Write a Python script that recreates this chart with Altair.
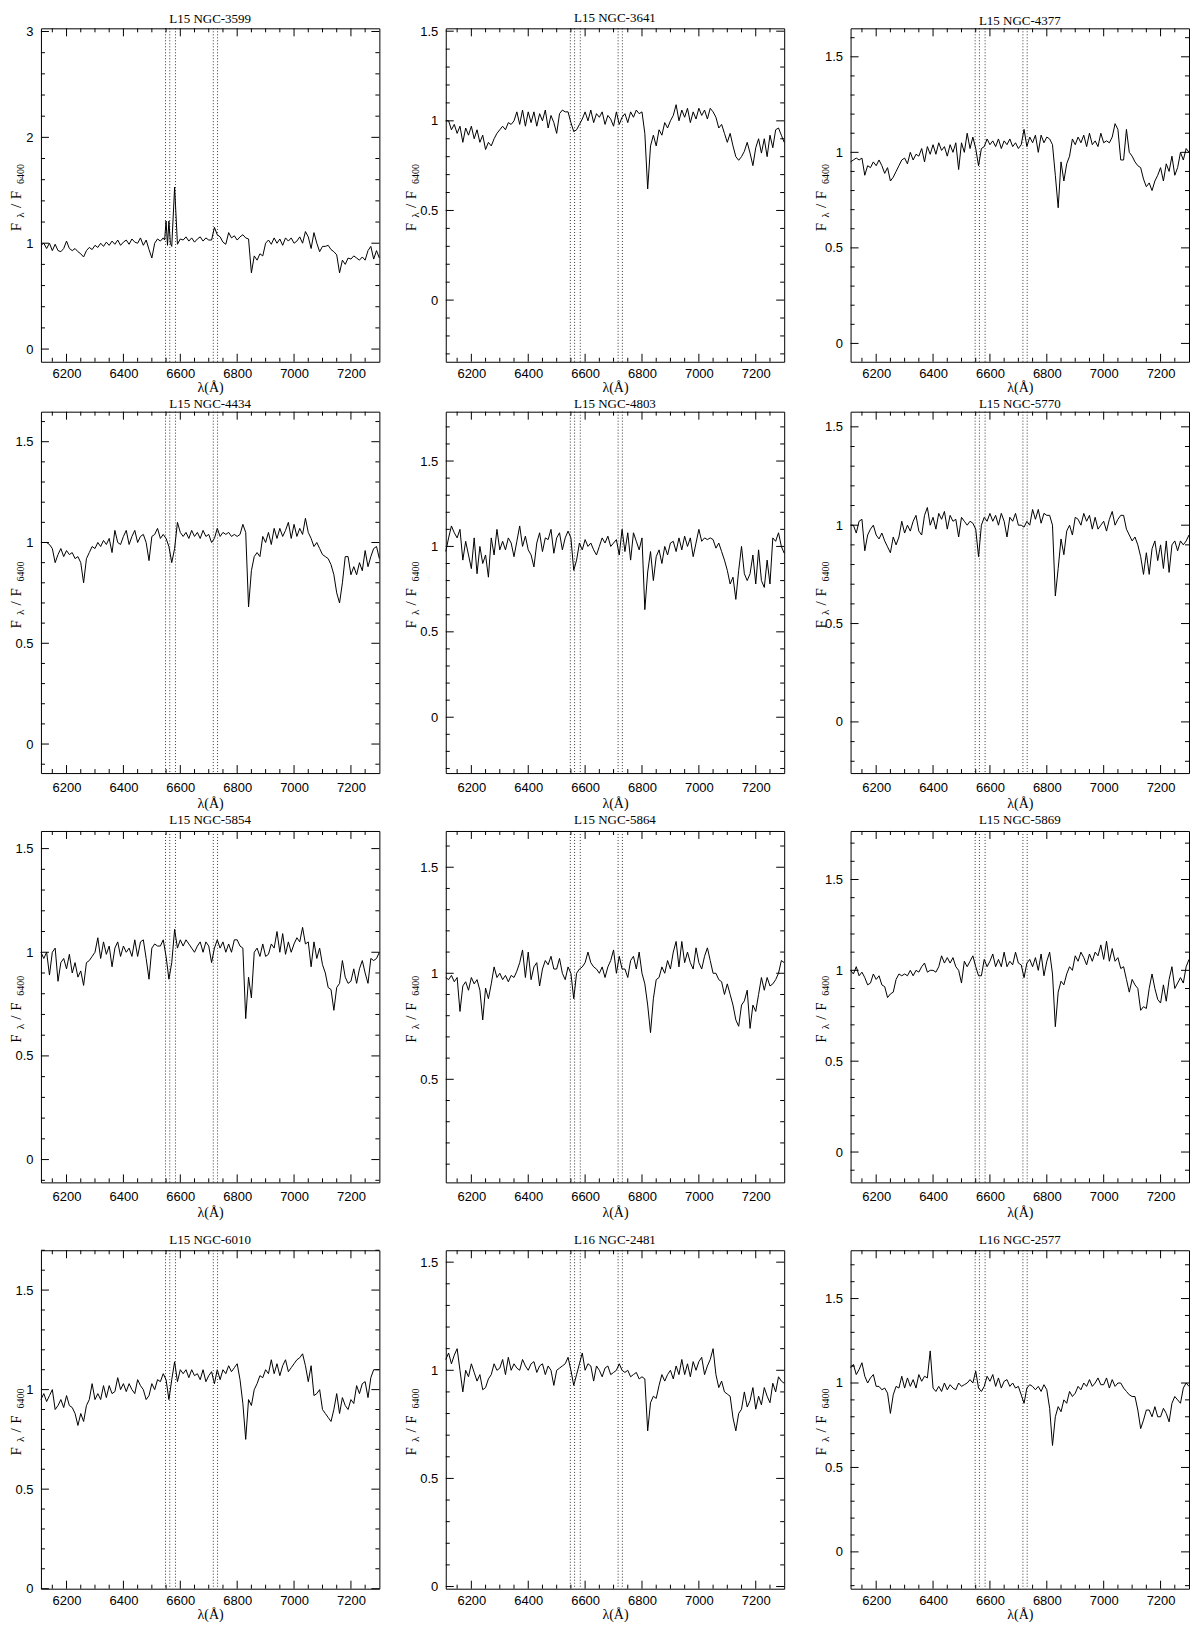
import altair as alt
import pandas as pd

# ---------------- data ----------------
WL = list(range(6110, 7301, 10))  # sampling grid (Angstrom)

NAMES = ["L15 NGC-3599", "L15 NGC-3641", "L15 NGC-4377",
         "L15 NGC-4434", "L15 NGC-4803", "L15 NGC-5770",
         "L15 NGC-5854", "L15 NGC-5864", "L15 NGC-5869",
         "L15 NGC-6010", "L16 NGC-2481", "L16 NGC-2577"]

F_3599 = [0.98, 1.00, 0.95, 1.00, 0.93, 0.99, 0.93, 0.92, 0.95, 1.02,
          0.95, 0.93, 0.95, 0.92, 0.90, 0.87, 0.93, 0.96, 0.94, 0.98,
          0.96, 1.00, 0.97, 1.01, 0.98, 1.02, 0.99, 1.03, 0.98, 1.01,
          1.03, 0.99, 1.04, 1.01, 1.00, 1.05, 0.98, 1.03, 0.94, 0.86,
          1.00, 1.04, 1.02, 1.05, 1.21, 1.21, 0.97, 1.53, 0.99, 1.04,
          1.03, 1.06, 1.02, 1.05, 1.01, 1.04, 1.06, 1.02, 1.05, 1.03,
          1.03, 1.15, 1.08, 1.06, 1.01, 0.99, 1.10, 1.05, 1.07, 1.03,
          1.06, 1.08, 1.05, 1.04, 0.72, 0.88, 0.84, 0.90, 0.88, 1.00,
          1.03, 0.99, 1.05, 1.00, 1.04, 0.98, 1.05, 1.02, 1.05, 1.00,
          1.02, 1.06, 1.00, 1.11, 1.06, 0.95, 1.10, 1.00, 0.92, 0.97,
          0.97, 0.98, 0.94, 0.92, 0.89, 0.72, 0.84, 0.80, 0.86, 0.85,
          0.88, 0.86, 0.84, 0.87, 0.84, 0.93, 0.97, 0.85, 0.93, 0.86]
EXTRA_WL_3599 = [6545, 6555, 6565]
EXTRA_F_3599 = [1.03, 0.98, 1.00]

F_3641 = [1.00, 1.00, 0.95, 0.98, 0.93, 0.97, 0.88, 0.96, 0.92, 0.97,
          0.90, 0.95, 0.88, 0.92, 0.84, 0.88, 0.86, 0.90, 0.93, 0.95,
          0.97, 0.95, 0.99, 0.98, 1.00, 1.05, 0.98, 1.06, 0.97, 1.05,
          0.99, 1.05, 0.97, 1.04, 1.00, 1.06, 0.96, 1.03, 0.99, 0.93,
          1.04, 1.06, 1.05, 1.05, 0.99, 0.94, 0.95, 0.98, 1.01, 1.05,
          1.00, 1.06, 0.99, 1.04, 1.02, 1.05, 0.98, 1.03, 1.01, 0.97,
          1.05, 0.98, 1.02, 1.04, 0.99, 1.05, 1.02, 1.06, 1.04, 1.05,
          0.93, 0.62, 0.86, 0.92, 0.86, 0.95, 0.92, 0.99, 0.96, 1.00,
          1.03, 1.09, 1.00, 1.06, 1.02, 1.07, 0.99, 1.05, 1.01, 1.07,
          1.03, 1.06, 1.01, 1.07, 1.05, 1.02, 0.96, 0.98, 0.93, 0.88,
          0.93, 0.86, 0.80, 0.78, 0.80, 0.83, 0.88, 0.82, 0.75, 0.85,
          0.90, 0.82, 0.90, 0.80, 0.92, 0.85, 0.95, 0.96, 0.92, 0.88]

F_4377 = [0.95, 0.96, 0.97, 0.96, 0.97, 0.88, 0.93, 0.92, 0.95, 0.93,
          0.96, 0.93, 0.89, 0.92, 0.85, 0.87, 0.90, 0.93, 0.96, 0.97,
          0.94, 1.00, 0.96, 0.99, 0.98, 1.02, 0.95, 1.03, 0.99, 1.04,
          0.99, 1.05, 1.01, 1.03, 0.98, 1.04, 1.00, 1.05, 0.91, 1.05,
          1.00, 1.10, 1.02, 1.08, 1.02, 0.93, 1.02, 1.03, 1.07, 1.04,
          1.06, 1.03, 1.07, 1.02, 1.06, 1.04, 1.07, 1.03, 1.05, 1.02,
          1.04, 1.12, 1.03, 1.08, 1.05, 1.09, 1.00, 1.09, 1.05, 1.08,
          1.07, 1.04, 0.88, 0.71, 0.95, 0.85, 0.94, 0.98, 1.07, 1.04,
          1.08, 1.05, 1.09, 1.03, 1.10, 1.04, 1.06, 1.03, 1.10, 1.05,
          1.06, 1.05, 1.08, 1.15, 1.12, 0.96, 0.96, 1.12, 1.00, 0.98,
          0.95, 0.93, 0.92, 0.86, 0.82, 0.84, 0.80, 0.85, 0.88, 0.92,
          0.85, 0.94, 0.90, 0.98, 0.88, 0.92, 1.00, 0.96, 1.02, 1.00]

F_4434 = [1.00, 1.00, 1.00, 0.99, 0.97, 0.90, 0.94, 0.97, 0.93, 0.96,
          0.94, 0.95, 0.92, 0.93, 0.90, 0.80, 0.92, 0.95, 0.98, 0.97,
          1.00, 0.98, 1.01, 0.99, 1.02, 0.95, 1.06, 1.00, 0.99, 1.03,
          1.06, 0.99, 1.03, 1.06, 1.00, 1.03, 1.04, 1.00, 0.91, 1.03,
          1.04, 1.07, 1.02, 1.04, 1.02, 0.98, 0.90, 0.97, 1.10, 1.05,
          1.03, 1.05, 1.02, 1.06, 1.03, 1.05, 1.02, 1.06, 1.03, 1.04,
          1.00, 1.02, 1.07, 1.03, 1.05, 1.04, 1.05, 1.03, 1.04, 1.03,
          1.04, 1.09, 1.05, 0.68, 0.86, 0.93, 0.95, 0.93, 1.03, 1.00,
          1.05, 0.99, 1.07, 1.02, 1.07, 1.03, 1.06, 1.10, 1.02, 1.09,
          1.03, 1.07, 1.04, 1.12, 1.05, 1.02, 0.98, 1.00, 0.97, 0.94,
          0.93, 0.92, 0.89, 0.84, 0.75, 0.70, 0.80, 0.93, 0.93, 0.84,
          0.88, 0.84, 0.90, 0.86, 0.96, 0.88, 0.93, 0.97, 0.98, 0.92]

F_4803 = [0.97, 1.05, 1.12, 1.08, 1.05, 1.10, 0.92, 1.03, 0.95, 0.87,
          1.05, 0.84, 1.00, 0.90, 0.95, 0.82, 1.05, 0.95, 1.10, 0.98,
          1.03, 0.98, 1.05, 1.02, 0.94, 1.03, 1.12, 1.00, 1.06, 0.98,
          0.95, 0.88, 1.02, 1.08, 0.97, 1.05, 1.04, 1.10, 0.96, 1.05,
          1.08, 0.98, 1.05, 1.09, 1.05, 0.86, 0.92, 1.02, 0.98, 1.04,
          1.00, 1.02, 0.98, 0.95, 1.00, 1.05, 1.02, 1.06, 1.00, 1.02,
          1.04, 0.95, 1.10, 0.97, 1.08, 0.92, 1.08, 1.03, 0.98, 1.05,
          0.63, 0.85, 0.97, 0.80, 0.94, 0.98, 0.90, 1.00, 0.95, 1.02,
          1.03, 0.97, 1.05, 0.98, 1.06, 1.00, 1.05, 0.94, 1.02, 1.10,
          1.03, 1.05, 1.04, 1.05, 1.04, 0.99, 1.02, 0.97, 0.92, 0.86,
          0.78, 0.82, 0.69, 0.86, 1.00, 0.84, 0.80, 0.84, 0.95, 0.78,
          0.98, 0.80, 0.76, 0.92, 0.78, 1.05, 1.03, 1.08, 1.00, 0.96]

F_5770 = [1.00, 1.00, 0.96, 1.02, 1.03, 0.87, 0.95, 0.98, 1.00, 0.95,
          0.93, 0.96, 0.92, 0.89, 0.86, 0.94, 0.90, 0.94, 1.02, 0.96,
          1.00, 0.97, 1.02, 1.05, 0.97, 0.95, 1.05, 1.09, 1.00, 1.04,
          0.98, 1.06, 1.03, 1.07, 0.98, 1.05, 1.02, 1.03, 0.94, 1.04,
          1.02, 1.00, 1.02, 1.01, 0.98, 0.84, 1.00, 1.04, 1.02, 1.06,
          1.02, 1.05, 1.00, 1.06, 1.02, 0.94, 1.04, 1.02, 1.06, 1.00,
          1.00, 0.99, 1.02, 1.00, 1.08, 1.03, 1.08, 1.01, 1.06, 1.05,
          1.05, 1.00, 0.64, 0.78, 0.93, 0.85, 0.97, 1.00, 0.95, 1.04,
          1.03, 1.00, 1.06, 1.02, 1.05, 0.98, 1.04, 0.98, 1.00, 1.02,
          0.97, 1.03, 1.07, 1.00, 1.03, 1.05, 1.05, 0.98, 0.95, 0.92,
          0.94, 0.90, 0.84, 0.75, 0.86, 0.75, 0.88, 0.92, 0.82, 0.90,
          0.78, 0.92, 0.76, 0.90, 0.92, 0.87, 0.92, 0.90, 0.92, 0.95]

F_5854 = [1.00, 0.97, 1.00, 0.89, 1.00, 1.02, 0.86, 0.95, 0.97, 0.92,
          0.99, 0.90, 0.95, 0.88, 0.91, 0.84, 0.95, 0.96, 0.98, 1.00,
          1.07, 0.97, 1.05, 0.99, 1.03, 0.93, 1.02, 1.05, 0.98, 1.03,
          1.00, 1.02, 0.98, 1.06, 0.98, 1.05, 1.06, 0.97, 0.87, 1.02,
          1.04, 1.03, 1.03, 1.06, 0.98, 0.87, 0.95, 1.11, 1.02, 1.06,
          1.03, 1.06, 1.04, 1.02, 1.00, 1.03, 1.05, 1.00, 1.05, 1.03,
          0.95, 1.02, 1.06, 1.02, 1.05, 1.00, 1.04, 1.00, 1.06, 1.06,
          1.03, 1.02, 0.68, 0.88, 0.78, 1.00, 1.02, 0.98, 1.04, 0.98,
          0.99, 1.04, 1.02, 1.10, 1.00, 1.09, 0.99, 1.05, 1.00, 1.04,
          1.07, 1.05, 1.12, 1.04, 1.05, 0.93, 1.05, 0.97, 1.02, 0.94,
          0.90, 0.83, 0.82, 0.72, 0.83, 0.85, 0.96, 0.88, 0.85, 0.86,
          0.92, 0.85, 0.92, 0.96, 0.90, 0.85, 0.97, 0.96, 0.97, 1.00]

F_5864 = [0.98, 0.97, 0.99, 0.96, 0.98, 0.82, 0.94, 0.96, 0.92, 0.98,
          0.95, 0.97, 0.92, 0.78, 0.93, 0.88, 0.95, 1.03, 0.98, 1.00,
          0.97, 0.99, 0.96, 0.99, 0.98, 1.01, 1.05, 1.11, 0.98, 1.10,
          0.97, 1.03, 1.05, 0.94, 1.02, 1.06, 1.04, 1.08, 1.02, 1.02,
          1.07, 1.00, 0.97, 1.03, 1.00, 0.88, 1.00, 1.02, 1.03, 1.05,
          1.10, 1.05, 1.03, 1.02, 1.00, 1.03, 0.98, 1.03, 1.06, 1.11,
          1.00, 1.08, 1.02, 1.02, 0.98, 1.06, 1.08, 1.02, 1.10, 1.00,
          0.95, 0.85, 0.72, 0.88, 0.97, 0.98, 1.03, 1.00, 1.06, 1.02,
          1.10, 1.15, 1.03, 1.15, 1.05, 1.10, 1.05, 1.02, 1.12, 1.05,
          1.02, 1.08, 1.12, 1.06, 1.00, 1.00, 0.97, 0.96, 0.90, 0.95,
          0.90, 0.85, 0.78, 0.75, 0.85, 0.87, 0.92, 0.74, 0.85, 0.82,
          0.90, 0.98, 0.92, 0.98, 0.94, 0.95, 0.97, 1.00, 1.06, 1.05]

F_5869 = [1.00, 0.98, 1.02, 0.97, 0.99, 0.96, 0.92, 0.93, 0.98, 0.95,
          0.97, 0.92, 0.91, 0.85, 0.87, 0.88, 0.95, 0.98, 0.97, 0.98,
          0.97, 1.00, 0.97, 1.00, 0.99, 1.02, 1.04, 0.99, 1.00, 1.00,
          0.99, 1.02, 1.08, 1.04, 1.07, 1.04, 1.07, 1.02, 1.00, 0.93,
          1.05, 1.02, 1.05, 1.08, 1.02, 0.97, 0.97, 1.06, 1.02, 1.05,
          1.09, 1.02, 1.06, 1.02, 1.10, 1.02, 1.05, 1.03, 1.10, 1.04,
          1.03, 0.96, 1.04, 1.06, 1.02, 1.07, 1.00, 1.09, 0.97, 1.05,
          1.10, 0.98, 0.69, 0.88, 0.94, 0.92, 0.98, 1.02, 1.00, 1.08,
          1.05, 1.10, 1.07, 1.03, 1.09, 1.05, 1.10, 1.08, 1.14, 1.06,
          1.16, 1.05, 1.12, 1.05, 1.07, 1.01, 1.02, 0.95, 0.88, 0.95,
          0.92, 0.90, 0.78, 0.80, 0.79, 0.90, 0.98, 0.90, 0.84, 0.82,
          0.92, 0.83, 0.95, 1.02, 0.90, 0.93, 0.96, 0.93, 1.02, 1.06]

F_6010 = [0.95, 0.98, 0.94, 0.97, 1.00, 0.90, 0.92, 0.95, 0.91, 0.97,
          0.92, 0.91, 0.88, 0.82, 0.88, 0.84, 0.92, 0.95, 1.03, 0.95,
          0.98, 0.95, 1.02, 0.96, 1.02, 0.98, 0.99, 1.06, 1.00, 1.03,
          0.99, 1.03, 1.00, 0.98, 1.05, 1.02, 1.00, 0.95, 0.97, 1.03,
          1.00, 1.05, 1.04, 1.08, 1.05, 0.95, 1.05, 1.14, 1.04, 1.10,
          1.08, 1.10, 1.06, 1.10, 1.07, 1.08, 1.05, 1.10, 1.04, 1.07,
          1.09, 1.03, 1.10, 1.05, 1.10, 1.08, 1.12, 1.09, 1.11, 1.13,
          1.05, 0.93, 0.75, 0.95, 0.92, 1.00, 1.03, 1.07, 1.06, 1.10,
          1.08, 1.15, 1.08, 1.13, 1.07, 1.12, 1.15, 1.09, 1.11, 1.13,
          1.15, 1.16, 1.18, 1.12, 1.04, 1.12, 0.97, 0.98, 1.00, 0.90,
          0.88, 0.86, 0.84, 0.90, 0.98, 0.88, 0.96, 0.92, 0.90, 0.95,
          0.93, 1.02, 0.98, 1.03, 1.04, 0.96, 1.06, 1.10, 1.10, 1.10]

F_2481 = [1.05, 1.08, 1.03, 1.07, 1.10, 1.00, 0.90, 1.00, 0.97, 1.03,
          0.99, 0.95, 0.98, 0.91, 0.92, 0.96, 0.98, 1.03, 1.00, 1.01,
          1.05, 0.98, 1.06, 1.00, 1.03, 1.01, 1.00, 1.05, 1.02, 1.00,
          1.03, 1.04, 0.99, 1.02, 1.03, 0.98, 1.02, 1.00, 0.93, 1.00,
          1.01, 1.02, 1.03, 1.06, 1.00, 0.93, 0.98, 1.03, 1.08, 1.00,
          1.03, 1.02, 0.95, 1.02, 1.00, 0.97, 1.01, 1.02, 0.98, 0.99,
          1.00, 1.03, 1.00, 0.99, 1.00, 0.97, 0.98, 0.99, 0.96, 0.97,
          0.96, 0.72, 0.85, 0.88, 0.87, 0.93, 0.98, 0.95, 0.98, 1.00,
          0.96, 1.02, 0.98, 1.05, 0.98, 1.03, 0.97, 1.04, 1.00, 1.04,
          1.06, 0.98, 1.02, 1.05, 1.10, 0.98, 0.92, 0.95, 0.90, 0.89,
          0.88, 0.78, 0.72, 0.80, 0.82, 0.90, 0.83, 0.86, 0.92, 0.82,
          0.88, 0.84, 0.92, 0.88, 0.85, 0.94, 0.90, 0.97, 0.95, 0.94]

F_2577 = [1.09, 1.11, 1.05, 1.08, 1.12, 1.04, 1.00, 1.03, 1.05, 0.98,
          0.98, 0.96, 0.97, 0.94, 0.82, 0.93, 0.98, 0.97, 1.04, 0.97,
          1.03, 0.98, 1.02, 0.97, 1.05, 1.01, 1.04, 1.03, 1.19, 0.97,
          0.95, 0.98, 0.95, 1.00, 0.96, 0.99, 0.97, 0.96, 1.00, 0.98,
          0.99, 1.00, 1.02, 1.00, 1.07, 0.97, 0.95, 0.98, 1.04, 1.01,
          1.05, 0.98, 1.03, 0.97, 1.01, 1.02, 0.98, 1.00, 0.97, 0.98,
          0.93, 0.88, 0.97, 0.99, 0.98, 0.96, 0.98, 0.95, 0.99, 0.96,
          0.85, 0.63, 0.80, 0.86, 0.83, 0.90, 0.88, 0.95, 0.92, 0.94,
          0.98, 0.96, 1.00, 0.98, 1.02, 0.98, 1.00, 1.03, 0.99, 0.99,
          1.03, 0.97, 1.02, 0.98, 1.00, 1.00, 0.97, 0.95, 0.93, 0.92,
          0.92, 0.84, 0.73, 0.78, 0.84, 0.84, 0.80, 0.86, 0.80, 0.80,
          0.85, 0.82, 0.77, 0.88, 0.92, 0.90, 0.88, 0.97, 1.00, 0.98]

SPECTRA = [F_3599, F_3641, F_4377, F_4434, F_4803, F_5770,
           F_5854, F_5864, F_5869, F_6010, F_2481, F_2577]

# emission / absorption line markers (Angstrom)
LINES = [6548, 6563, 6583, 6716, 6731]

X_DOMAIN = [6110, 7300]
X_LABELS = [6200, 6400, 6600, 6800, 7000, 7200]
X_MINOR = [6150, 6250, 6300, 6350, 6450, 6500, 6550, 6650, 6700, 6750,
           6850, 6900, 6950, 7050, 7100, 7150, 7250]

Y_DOMAINS = [[-0.12, 3.03], [-0.344, 1.516], [-0.096, 1.649],
             [-0.144, 1.649], [-0.327, 1.789], [-0.26, 1.577],
             [-0.11, 1.585], [0.014, 1.671], [-0.167, 1.767],
             [0.0, 1.70], [-0.01, 1.555], [-0.218, 1.786]]

# ---------------- layout / style ----------------
W = 339
ROW_H = [334, 362, 352, 339]
ROW_GAPS = [50, 58, 68]
TITLE_OFF = [0, 0, 3, 3]
LABEL_PAD = [6, 8, 8, 6]
XTITLE_PAD = [0, 2, 2, 0]
COL_GAP = 66.5
SERIF = "Liberation Serif"
SANS = "Liberation Sans"
TICK_MAJ = 8
TICK_MIN = 4


def y_ticks(dom, idx):
    lo, hi = dom
    if idx == 0:
        step_major, step_minor = 1.0, 0.2
    else:
        step_major, step_minor = 0.5, 0.1
    majors, minors = [], []
    k = int(lo / step_minor) - 2
    while k * step_minor <= hi + 1e-9:
        v = round(k * step_minor, 4)
        if lo - 1e-9 <= v <= hi + 1e-9:
            if abs(v / step_major - round(v / step_major)) < 1e-6:
                majors.append(v)
            else:
                minors.append(v)
        k += 1
    return majors, minors


def panel(i):
    r = i // 3
    H = ROW_H[r]
    col = i % 3
    xs = alt.Scale(domain=X_DOMAIN, nice=False, zero=False)
    ys = alt.Scale(domain=Y_DOMAINS[i], nice=False, zero=False)
    wl = list(WL)
    fl = list(SPECTRA[i])
    if i == 0:
        wl += EXTRA_WL_3599
        fl += EXTRA_F_3599
    df = pd.DataFrame({"wl": wl, "f": fl}).sort_values("wl")
    majors, minors = y_ticks(Y_DOMAINS[i], i)

    x_axis = alt.Axis(values=X_LABELS, format="d", ticks=False, domain=False,
                      grid=False, labelFont=SANS, labelFontSize=13,
                      labelColor="black", labelPadding=LABEL_PAD[r],
                      title="λ(Å)", titleFont=SERIF, titleFontSize=14,
                      titleFontWeight="normal", titleColor="black",
                      titlePadding=XTITLE_PAD[r])
    y_axis = alt.Axis(values=majors, format="~g", ticks=False, domain=False,
                      grid=False, labelFont=SANS, labelFontSize=13,
                      labelColor="black", labelPadding=8, title="")

    line = alt.Chart(df).mark_line(color="black", strokeWidth=1.0).encode(
        x=alt.X("wl:Q", scale=xs, axis=x_axis),
        y=alt.Y("f:Q", scale=ys, axis=y_axis),
    )

    marks = alt.Chart(pd.DataFrame({"wl": LINES})).mark_rule(
        color="black", strokeWidth=0.8, strokeDash=[1, 2]).encode(
        x=alt.X("wl:Q", scale=xs, axis=x_axis))

    layers = [line, marks]

    def xrule(vals, y0, y1):
        return alt.Chart(pd.DataFrame({"wl": vals})).mark_rule(
            color="black", strokeWidth=1).encode(
            x=alt.X("wl:Q", scale=xs, axis=x_axis), y=alt.value(y0), y2=alt.value(y1))

    def yrule(vals, x0, x1):
        return alt.Chart(pd.DataFrame({"f": vals})).mark_rule(
            color="black", strokeWidth=1).encode(
            y=alt.Y("f:Q", scale=ys, axis=y_axis), x=alt.value(x0), x2=alt.value(x1))

    layers += [
        xrule(X_LABELS, H - TICK_MAJ, H), xrule(X_LABELS, 0, TICK_MAJ),
        xrule(X_MINOR, H - TICK_MIN, H), xrule(X_MINOR, 0, TICK_MIN),
        yrule(majors, 0, TICK_MAJ), yrule(majors, W - TICK_MAJ, W),
        yrule(minors, 0, TICK_MIN), yrule(minors, W - TICK_MIN, W),
    ]

    # y-axis title  F_lambda / F_6400 built from pieces (with subscripts)
    xm = {0: -25, 1: -35, 2: -30}[col]
    pieces = [("F", 15, xm, 32), ("λ", 11, xm + 5, 20), ("/", 15, xm, 11),
              ("F", 15, xm, 0), ("6400", 10, xm + 5, -21)]
    one = pd.DataFrame({"a": [0]})
    for txt, size, px, dy in pieces:
        layers.append(alt.Chart(one).mark_text(
            text=txt, angle=270, font=SERIF, fontSize=size, align="center",
            baseline="middle", color="black").encode(
            x=alt.value(px), y=alt.value(H / 2 + dy)))

    return alt.layer(*layers).properties(
        width=W, height=H,
        title=alt.TitleParams(text=NAMES[i], font=SERIF, fontSize=13,
                              fontWeight="normal", color="black",
                              offset=TITLE_OFF[r]))


def spacer(h):
    return alt.Chart(pd.DataFrame({"a": [0]})).mark_point(opacity=0).encode(
        x=alt.X("a:Q", axis=None), y=alt.Y("a:Q", axis=None)
    ).properties(width=1, height=h, view=alt.ViewBackground(stroke="transparent"))


cells = []
for r in range(4):
    cells += [panel(3 * r + c) for c in range(3)]
    if r < 3:
        cells += [spacer(ROW_GAPS[r]) for _ in range(3)]

chart = alt.concat(*cells, columns=3, spacing={"row": 0, "column": COL_GAP},
                   bounds="flush").properties(
    padding={"left": 0, "top": 2, "right": 0, "bottom": -2},
    background="white",
).configure_view(stroke="black", strokeWidth=1)

chart.save("out.html", embed_options={"renderer": "svg", "actions": False})
